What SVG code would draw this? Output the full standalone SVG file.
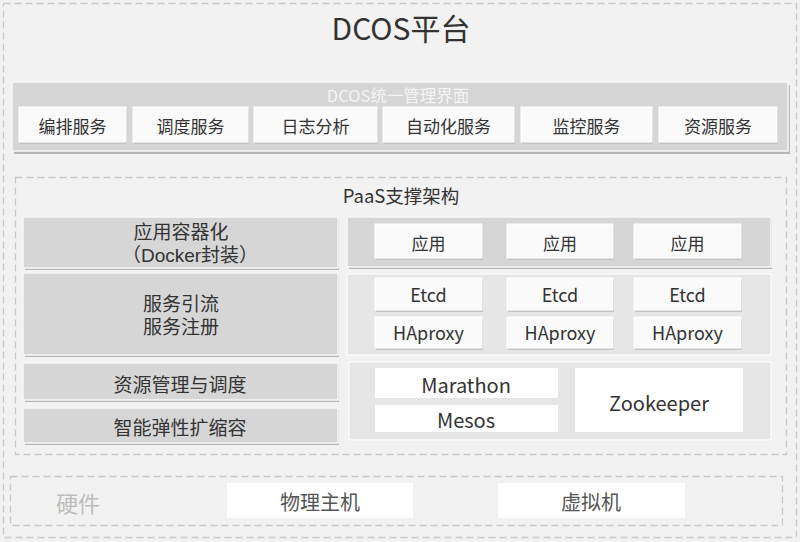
<svg xmlns="http://www.w3.org/2000/svg" width="800" height="542" viewBox="0 0 800 542">
<defs>
<style>
text{font-family:"Noto Sans CJK SC","Liberation Sans",sans-serif;fill:#333;text-anchor:middle;dominant-baseline:central}
text.two{font-family:"Liberation Sans","Noto Sans CJK SC",sans-serif}
.dash{fill:none;stroke:#c9c9c9;stroke-width:1.3;stroke-dasharray:7 4}
.shadow{fill:#b8b8b8}
.dark{fill:#d6d6d6;stroke:#f7f7f7;stroke-width:1.5}
.light{fill:#e6e6e6;stroke:#fafafa;stroke-width:1.5}
.btn{fill:#fafafa;stroke:#fff;stroke-width:1}
.btnsh{fill:#c4c4c4}
.wbox{fill:#fff}
.t17{font-size:17px}
.t18{font-size:18px}
.t19{font-size:19px}
.t20{font-size:20px}
</style>
</defs>
<rect x="0" y="0" width="800" height="542" fill="#f2f2f2"/>
<rect class="dash" x="3.5" y="3.5" width="793" height="534"/>
<g id="title"><text x="401" y="27" font-size="30">DCOS平台</text></g>

<g id="mgmt">
<rect class="shadow" x="14" y="85" width="776" height="69"/>
<rect class="dark" x="12" y="82" width="776" height="69"/>
<text x="398" y="95" font-size="16.5" style="fill:#f4f4f4">DCOS统一管理界面</text>
</g>
<g id="svc-bianpai"><rect class="btnsh" x="20" y="109" width="107" height="35"/><rect class="btn" x="19" y="107" width="107" height="35"/><text class="t17" x="72.5" y="125">编排服务</text></g>
<g id="svc-diaodu"><rect class="btnsh" x="134" y="109" width="115" height="35"/><rect class="btn" x="133" y="107" width="115" height="35"/><text class="t17" x="190.5" y="125">调度服务</text></g>
<g id="svc-rizhi"><rect class="btnsh" x="255" y="109" width="123" height="35"/><rect class="btn" x="254" y="107" width="123" height="35"/><text class="t17" x="315.5" y="125">日志分析</text></g>
<g id="svc-zidonghua"><rect class="btnsh" x="384" y="109" width="131" height="35"/><rect class="btn" x="383" y="107" width="131" height="35"/><text class="t17" x="448.5" y="125">自动化服务</text></g>
<g id="svc-jiankong"><rect class="btnsh" x="522" y="109" width="131" height="35"/><rect class="btn" x="521" y="107" width="131" height="35"/><text class="t17" x="586.5" y="125">监控服务</text></g>
<g id="svc-ziyuan"><rect class="btnsh" x="660" y="109" width="118" height="35"/><rect class="btn" x="659" y="107" width="118" height="35"/><text class="t17" x="718" y="125">资源服务</text></g>

<g id="paas">
<rect class="dash" x="15.5" y="177.5" width="771" height="277"/>
<text x="401" y="195" font-size="18.5">PaaS支撑架构</text>
</g>

<g id="left-container"><rect class="shadow" x="25" y="219" width="314" height="51"/><rect class="dark" x="23" y="217" width="315" height="51"/><text class="t19 two"><tspan x="181" y="232">应用容器化</tspan><tspan x="190" y="255">（Docker封装）</tspan></text></g>
<g id="left-service"><rect class="shadow" x="25" y="275" width="314" height="82"/><rect class="dark" x="23" y="273" width="315" height="82"/><text class="t19 two"><tspan x="181" y="304">服务引流</tspan><tspan x="181" y="327">服务注册</tspan></text></g>
<g id="left-resource"><rect class="shadow" x="25" y="365" width="314" height="37"/><rect class="dark" x="23" y="363" width="315" height="37"/><text class="t19" x="180" y="383">资源管理与调度</text></g>
<g id="left-scale"><rect class="shadow" x="25" y="410" width="314" height="35"/><rect class="dark" x="23" y="408" width="315" height="35"/><text class="t19" x="180" y="426">智能弹性扩缩容</text></g>

<g id="row-apps"><rect class="shadow" x="349" y="219" width="423" height="50"/><rect class="dark" x="347" y="217" width="424" height="50"/></g>
<g id="app1"><rect class="btnsh" x="376" y="226" width="107" height="34"/><rect class="btn" x="375" y="224" width="107" height="34"/><text class="t17" x="428.5" y="242">应用</text></g>
<g id="app2"><rect class="btnsh" x="508" y="226" width="106" height="34"/><rect class="btn" x="507" y="224" width="106" height="34"/><text class="t17" x="560" y="242">应用</text></g>
<g id="app3"><rect class="btnsh" x="635" y="226" width="107" height="34"/><rect class="btn" x="634" y="224" width="107" height="34"/><text class="t17" x="687.5" y="242">应用</text></g>

<g id="row-etcd"><rect class="light" x="347" y="274" width="424" height="81"/></g>
<g id="etcd1"><rect class="btnsh" x="376" y="280" width="107" height="32"/><rect class="btn" x="375" y="278" width="107" height="32"/><text class="t18" x="428.5" y="294">Etcd</text></g>
<g id="etcd2"><rect class="btnsh" x="508" y="280" width="106" height="32"/><rect class="btn" x="507" y="278" width="106" height="32"/><text class="t18" x="560" y="294">Etcd</text></g>
<g id="etcd3"><rect class="btnsh" x="635" y="280" width="107" height="32"/><rect class="btn" x="634" y="278" width="107" height="32"/><text class="t18" x="687.5" y="294">Etcd</text></g>
<g id="haproxy1"><rect class="btnsh" x="376" y="319" width="107" height="31"/><rect class="btn" x="375" y="317" width="107" height="31"/><text class="t18" x="428.5" y="332">HAproxy</text></g>
<g id="haproxy2"><rect class="btnsh" x="508" y="319" width="106" height="31"/><rect class="btn" x="507" y="317" width="106" height="31"/><text class="t18" x="560" y="332">HAproxy</text></g>
<g id="haproxy3"><rect class="btnsh" x="635" y="319" width="107" height="31"/><rect class="btn" x="634" y="317" width="107" height="31"/><text class="t18" x="687.5" y="332">HAproxy</text></g>

<g id="row-mesos"><rect class="light" x="349" y="362" width="422" height="78"/></g>
<g id="marathon"><rect class="wbox" x="375" y="368" width="183" height="30"/><text class="t20" x="466" y="384">Marathon</text></g>
<g id="mesos"><rect class="wbox" x="375" y="405" width="183" height="27"/><text class="t20" x="466" y="419">Mesos</text></g>
<g id="zookeeper"><rect class="wbox" x="575" y="368" width="168" height="64"/><text class="t20" x="659" y="402">Zookeeper</text></g>

<g id="hardware">
<rect class="dash" x="10.5" y="476.5" width="772" height="49"/>
<text x="78" y="502" font-size="22" style="fill:#bdbdbd">硬件</text>
</g>
<g id="physical"><rect class="wbox" x="227" y="483" width="186" height="35"/><text class="t20" x="320" y="501" style="fill:#555">物理主机</text></g>
<g id="vm"><rect class="wbox" x="498" y="483" width="187" height="35"/><text class="t20" x="591" y="501" style="fill:#555">虚拟机</text></g>
<g id="connectors"></g>
</svg>
